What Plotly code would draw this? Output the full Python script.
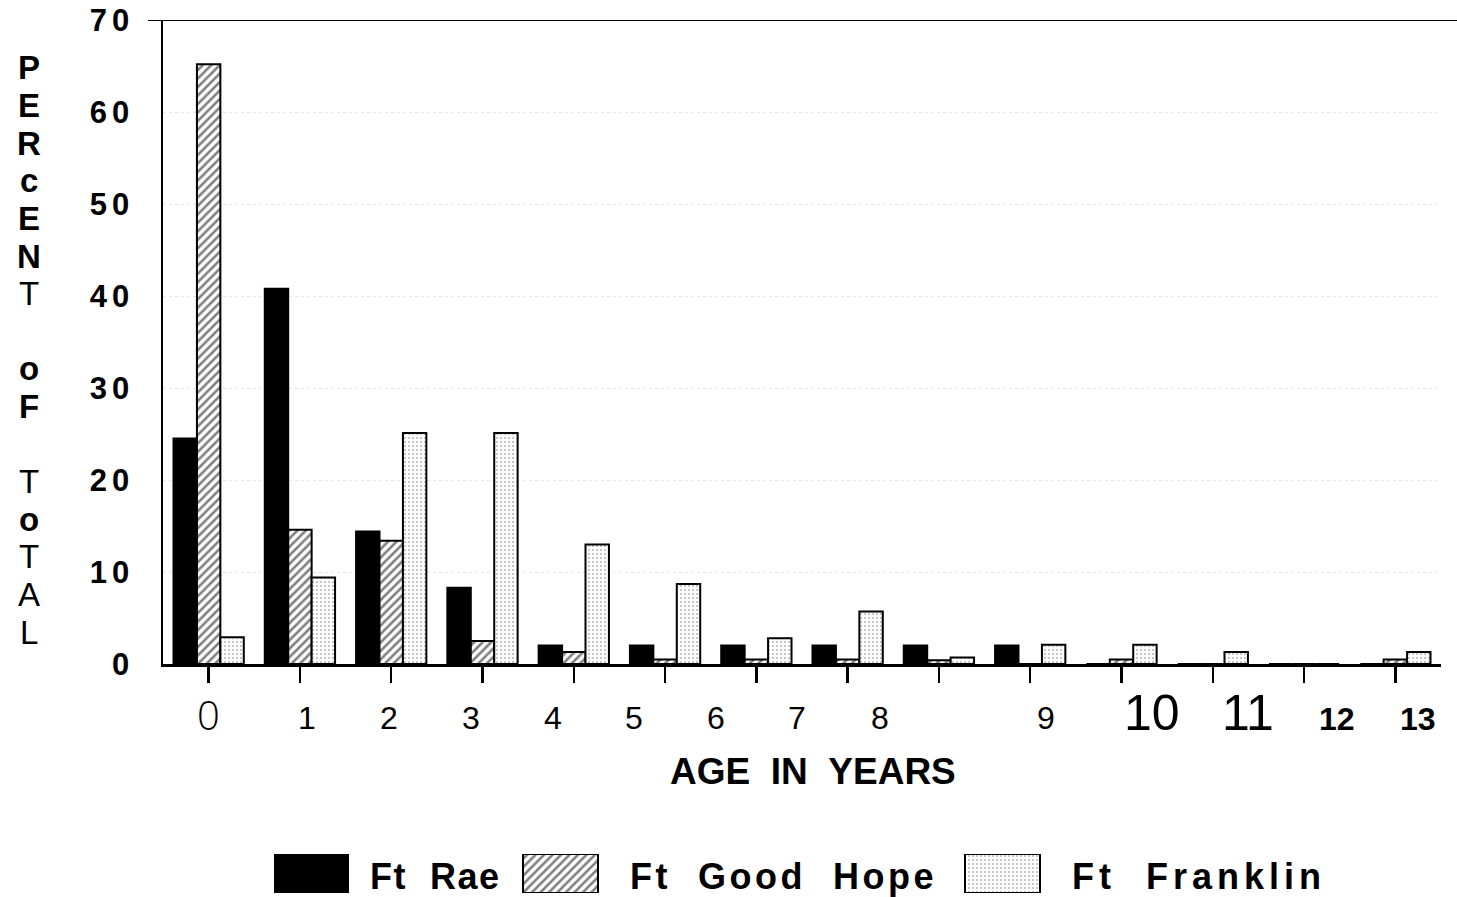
import plotly.graph_objects as go

# ---------------- data ----------------
ages = list(range(14))
age_labels = ["0", "1", "2", "3", "4", "5", "6", "7", "8", "9", "10", "11", "12", "13"]
ft_rae = [24.5, 40.8, 14.4, 8.3, 2.0, 2.0, 2.0, 2.0, 2.0, 2.0, 0, 0, 0, 0]
ft_good_hope = [65.2, 14.6, 13.4, 2.5, 1.3, 0.5, 0.5, 0.5, 0.4, 0, 0.5, 0, 0, 0.5]
ft_franklin = [2.9, 9.4, 25.1, 25.1, 13.0, 8.7, 2.8, 5.7, 0.7, 2.1, 2.1, 1.3, 0, 1.3]
series_names = ["Ft Rae", "Ft Good Hope", "Ft Franklin"]
y_ticks = [0, 10, 20, 30, 40, 50, 60, 70]

# ---------------- layout helpers (reference pixel -> paper) ----------------
W, H = 1457, 897
L, R, T, B = 163, 16, 20, 0
PW, PH = W - L - R, H - T - B


def px_x(px):
    return (px - L) / PW


def px_y(py):
    return (H - B - py) / PH


FONT = "Liberation Sans, Arial, sans-serif"

styles = [
    dict(color="black", pattern=dict(shape="")),
    dict(color="white", pattern=dict(shape="/", size=6, solidity=0.42,
                                     fgcolor="black", bgcolor="white")),
    dict(color="white", pattern=dict(shape=".", size=4, solidity=0.2,
                                     fgcolor="#666666", bgcolor="white")),
]

fig = go.Figure()
for name, vals, st in zip(series_names, [ft_rae, ft_good_hope, ft_franklin], styles):
    fig.add_trace(go.Bar(
        x=ages, y=vals, name=name, showlegend=False,
        marker=dict(color=st["color"], pattern=st["pattern"],
                    line=dict(color="black", width=2)),
        xaxis="x", yaxis="y",
    ))

# legend glyph boxes (drawn on a hidden axis scaled in reference pixels)
legend_boxes = [(311.5, 73), (560.5, 75), (1002.5, 75)]
for (cx, w), name, st in zip(legend_boxes, series_names, styles):
    fig.add_trace(go.Bar(
        x=[cx], y=[1], width=[w], showlegend=False, hoverinfo="skip",
        marker=dict(color=st["color"], pattern=st["pattern"],
                    line=dict(color="black", width=2)),
        xaxis="x2", yaxis="y2",
    ))

annotations = []

# x tick labels (irregular positions / fonts as in the original)
label_px = [208, 307, 389, 471, 553, 634, 716, 797, 880, 1046, 1152, 1248, 1337, 1418]
label_py = [714, 718, 718, 718, 718, 718, 718, 718, 718, 718, 713, 713, 719, 719]
label_font = []
for lab in age_labels:
    if lab == "0":
        label_font.append(dict(family="Open Sans, Liberation Sans, sans-serif", size=40,
                               color="black", weight=300))
    elif lab in ("10", "11"):
        label_font.append(dict(family=FONT, size=50, color="black"))
    elif lab in ("12", "13"):
        label_font.append(dict(family=FONT, size=32, color="black", weight="bold"))
    else:
        label_font.append(dict(family=FONT, size=32, color="black"))
for lab, lx, ly, f in zip(age_labels, label_px, label_py, label_font):
    annotations.append(dict(text=lab, x=px_x(lx), y=px_y(ly), xref="paper", yref="paper",
                            xanchor="center", yanchor="middle", showarrow=False, font=f))

# x axis title
annotations.append(dict(text="AGE\u00a0\u00a0IN\u00a0\u00a0YEARS", x=px_x(813), y=px_y(771),
                        xref="paper", yref="paper", xanchor="center", yanchor="middle",
                        showarrow=False,
                        font=dict(family=FONT, size=37, color="black", weight="bold")))

# vertical y-axis title, one letter per line
title_letters = [("P", 1), ("E", 1), ("R", 1), ("c", 1), ("E", 1), ("N", 1), ("T", 0),
                 ("", 0), ("o", 1), ("F", 1), ("", 0),
                 ("T", 0), ("o", 1), ("T", 0), ("A", 0), ("L", 0)]
for k, (ch, bold) in enumerate(title_letters):
    if not ch:
        continue
    annotations.append(dict(text=ch, x=px_x(29), y=px_y(68 + 37.6 * k),
                            xref="paper", yref="paper", xanchor="center", yanchor="middle",
                            showarrow=False,
                            font=dict(family=FONT, size=33, color="black",
                                      weight="bold" if bold else "normal")))

# legend labels
legend_text_px = [368, 628, 1070]
legend_spacing = [1.5, 3.5, 5]
for name, lx, sp in zip(series_names, legend_text_px, legend_spacing):
    txt = name.replace(" ", "\u00a0\u00a0")
    annotations.append(dict(text=f'<span style="letter-spacing:{sp}px">{txt}</span>',
                            x=px_x(lx), y=px_y(876),
                            xref="paper", yref="paper", xanchor="left", yanchor="middle",
                            showarrow=False,
                            font=dict(family=FONT, size=36, color="black", weight="bold")))

fig.update_layout(
    width=W, height=H, autosize=False,
    margin=dict(l=L, r=R, t=T, b=B, pad=0, autoexpand=False),
    paper_bgcolor="white", plot_bgcolor="white",
    barmode="group", bargap=0.23, bargroupgap=0,
    font=dict(family=FONT, color="black"),
    hovermode=False,
    xaxis=dict(domain=[0, 1], anchor="y", range=[-0.5, 13.5], tickvals=ages,
               showticklabels=False, ticks="outside", ticklen=16, tickwidth=2.5,
               tickcolor="black", showline=True, linewidth=3, linecolor="black",
               showgrid=False, zeroline=False),
    yaxis=dict(domain=[px_y(664), 1], anchor="x", range=[0, 70], tickvals=y_ticks,
               ticktext=[f'<span style="letter-spacing:5px">{v}</span>' for v in y_ticks],
               tickfont=dict(family=FONT, size=31, color="black", weight="bold"),
               ticks="", ticklabelstandoff=20, ticklabeloverflow="allow",
               showline=True, linewidth=2.5,
               linecolor="black", showgrid=True, gridcolor="#e8e8e8", griddash="dot",
               gridwidth=1, zeroline=False),
    xaxis2=dict(domain=[0, 1], anchor="y2", range=[163, 1441], visible=False),
    yaxis2=dict(domain=[px_y(893), px_y(854)], anchor="x2", range=[0, 1], visible=False),
    annotations=annotations,
    shapes=[dict(type="line", xref="paper", yref="y", x0=px_x(148), x1=px_x(1457),
                 y0=70, y1=70, line=dict(color="black", width=2))],
)

fig.write_html(
    "out.html",
    config={"responsive": False, "displayModeBar": False, "staticPlot": True},
    post_script="document.body.style.margin='0px';document.body.style.overflow='hidden';",
)
